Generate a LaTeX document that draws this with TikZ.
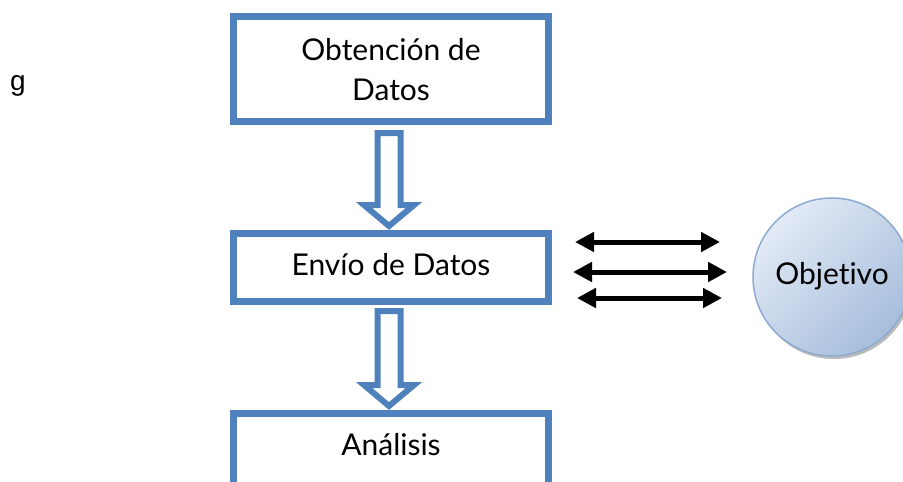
\documentclass[tikz,border=0pt]{standalone}
\usepackage{fontspec}
\setmainfont{Lato}[Ligatures=NoCommon]
\newfontfamily\gfont{Liberation Sans}
\usetikzlibrary{calc,arrows.meta,shadows}
\definecolor{boxblue}{HTML}{4F81BD}
\definecolor{circedge}{HTML}{8EAAD3}
\definecolor{circlight}{HTML}{E2EAF5}
\definecolor{circdark}{HTML}{A6BDDC}
\begin{document}
\begin{tikzpicture}[x=1pt,y=-1pt,
  box/.style={draw=boxblue,line width=7pt,fill=white,minimum width=315pt,inner sep=0pt,
    font=\fontsize{30}{40}\selectfont,align=center},
  blockarrow/.style={draw=boxblue,line width=6pt,fill=white,line join=miter},
  dblarrow/.style={line width=5pt,{Triangle[length=19pt,width=19pt]}-{Triangle[length=19pt,width=19pt]}},
]
\clip (0,0) rectangle (903,482);
\node[font=\gfont\fontsize{28}{30}\selectfont,anchor=base] (g) at (18,90) {g};
\node[box,minimum height=105pt,text height=62pt,text depth=0pt] (ob) at (391,69) {Obtención de\\Datos};
\node[box,minimum height=68pt,text height=22pt,text depth=7pt] (env) at (391,267.5) {Envío de Datos};
\node[box,minimum height=82pt,text height=22pt,text depth=20pt] (an) at (391,454.5) {Análisis};
\draw[blockarrow] ($(ob.south)+(-13.5,8)$) -- ($(ob.south)+(-13.5,80)$) -- ($(ob.south)+(-27,80)$)
  -- ($(ob.south)+(-2,101)$) -- ($(ob.south)+(23,80)$) -- ($(ob.south)+(9.5,80)$)
  -- ($(ob.south)+(9.5,8)$) -- cycle;
\draw[blockarrow] ($(env.south)+(-13.5,6)$) -- ($(env.south)+(-13.5,80)$) -- ($(env.south)+(-27,80)$)
  -- ($(env.south)+(-2,101)$) -- ($(env.south)+(23,80)$) -- ($(env.south)+(9.5,80)$)
  -- ($(env.south)+(9.5,6)$) -- cycle;
\node[circle,minimum size=158pt,inner sep=0pt,draw=circedge,line width=1.5pt,
  top color=circlight,bottom color=circdark,shading angle=45,
  drop shadow={shadow xshift=2pt,shadow yshift=-3pt,opacity=.45,fill=black!60},
  font=\fontsize{30}{36}\selectfont,text height=22pt,text depth=7pt] (obj) at (832,277) {Objet\kern0pt ivo};
\coordinate (l1) at (575,242); \coordinate (r1) at (720,242);
\coordinate (l2) at (573,272); \coordinate (r2) at (727,272);
\coordinate (l3) at (577,298); \coordinate (r3) at (722,298);
\draw[dblarrow] (l1) -- (r1);
\draw[dblarrow] (l2) -- (r2);
\draw[dblarrow] (l3) -- (r3);
\end{tikzpicture}
\end{document}
